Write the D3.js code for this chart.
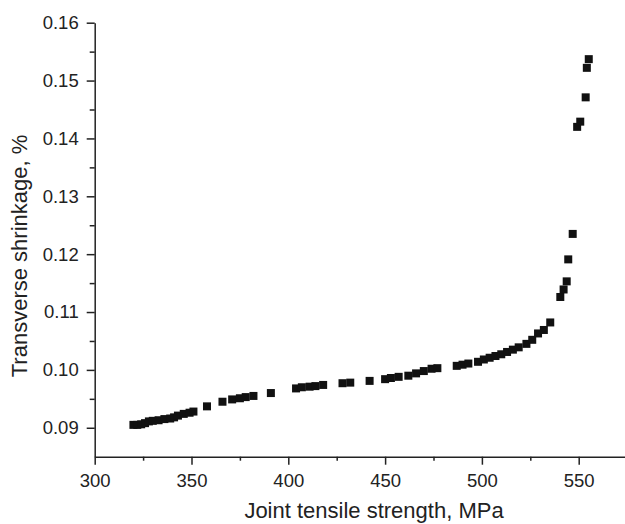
<!DOCTYPE html>
<html>
<head>
<meta charset="utf-8">
<script src="https://cdn.jsdelivr.net/npm/d3@7"></script>
<style>
  body { margin: 0; background: #fff; }
  svg { display: block; }
  .axis text { font-family: "Liberation Sans", Arial, sans-serif; font-size: 18.5px; fill: #222; }
  .axis path, .axis line { stroke: #222; stroke-width: 1.5px; }
  .title { font-family: "Liberation Sans", Arial, sans-serif; font-size: 22px; fill: #222; }
</style>
</head>
<body>
<div id="chart"></div>
<script>
// Données
var strengthMPa = [320, 322, 324, 326, 328, 330, 333, 336, 339, 341, 343, 346, 349, 351,
    358, 366, 371, 375, 378, 382, 391, 404, 407, 411, 414, 418, 428, 432, 442,
    450, 453, 457, 462, 466, 470, 474, 477, 487, 490, 493, 498, 501, 504, 507,
    510, 513, 516, 519, 523, 526, 529, 532, 535.3, 540.5, 542.2, 543.8, 544.6,
    546.9, 549.2, 550.8, 553.6, 554.2, 555.2];
var shrinkagePct = [0.0905, 0.0905, 0.0906, 0.0908, 0.0911, 0.0912, 0.0913, 0.0915, 0.0916, 0.0918, 0.0921, 0.0924, 0.0926, 0.0928,
    0.0937, 0.0945, 0.0949, 0.0951, 0.0953, 0.0955, 0.0960, 0.0968, 0.0970, 0.0971, 0.0972, 0.0974, 0.0977, 0.0978, 0.0981,
    0.0984, 0.0986, 0.0988, 0.0990, 0.0994, 0.0998, 0.1002, 0.1003, 0.1007, 0.1009, 0.1011, 0.1014, 0.1018, 0.1021, 0.1024,
    0.1027, 0.1031, 0.1035, 0.1039, 0.1045, 0.1052, 0.1063, 0.1069, 0.1082, 0.1126, 0.1139, 0.1153, 0.1191,
    0.1235, 0.1420, 0.1429, 0.1471, 0.1522, 0.1537];

var xMajor = [300, 350, 400, 450, 500, 550];
var xMinor = [325, 375, 425, 475, 525, 575];
var yMajor = [0.09, 0.10, 0.11, 0.12, 0.13, 0.14, 0.15, 0.16];
var yMinor = [0.095, 0.105, 0.115, 0.125, 0.135, 0.145, 0.155];

var width = 625, height = 524;

var svg = d3.select("#chart").append("svg")
    .attr("width", width)
    .attr("height", height);

// Echelles
var x = d3.scaleLinear().domain([300, 575]).range([94.7, 627.1]);
var y = d3.scaleLinear().domain([0.085, 0.16]).range([456.7, 22.7]);

// axe X
svg.append("g")
    .attr("class", "axis")
    .attr("transform", "translate(0," + y(0.085) + ")")
    .call(d3.axisBottom(x).tickValues(xMinor).tickSize(4).tickSizeOuter(0).tickFormat(""));
svg.append("g")
    .attr("class", "axis")
    .attr("transform", "translate(0," + y(0.085) + ")")
    .call(d3.axisBottom(x).tickValues(xMajor).tickSize(8).tickSizeOuter(0).tickPadding(9).tickFormat(d3.format("d")))
    .select(".domain").remove();

// axe Y
svg.append("g")
    .attr("class", "axis")
    .attr("transform", "translate(" + x(300) + ",0)")
    .call(d3.axisLeft(y).tickValues(yMinor).tickSize(5).tickSizeOuter(0).tickFormat(""));
svg.append("g")
    .attr("class", "axis")
    .attr("transform", "translate(" + x(300) + ",0)")
    .call(d3.axisLeft(y).tickValues(yMajor).tickSize(8).tickSizeOuter(0).tickPadding(8).tickFormat(d3.format(".2f")))
    .select(".domain").remove();

// points
var pts = strengthMPa.map(function (d, i) { return { x: d, y: shrinkagePct[i] }; });
var s = 8;
svg.append("g").selectAll("rect")
    .data(pts)
    .enter().append("rect")
    .attr("x", function (d) { return x(d.x) - s / 2; })
    .attr("y", function (d) { return y(d.y) - s / 2; })
    .attr("width", s)
    .attr("height", s)
    .attr("fill", "#111");

// titres
svg.append("text")
    .attr("class", "title")
    .attr("x", 374)
    .attr("y", 518)
    .attr("text-anchor", "middle")
    .text("Joint tensile strength, MPa");

svg.append("text")
    .attr("class", "title")
    .attr("transform", "translate(27,256) rotate(-90)")
    .attr("text-anchor", "middle")
    .text("Transverse shrinkage, %");
</script>
</body>
</html>
